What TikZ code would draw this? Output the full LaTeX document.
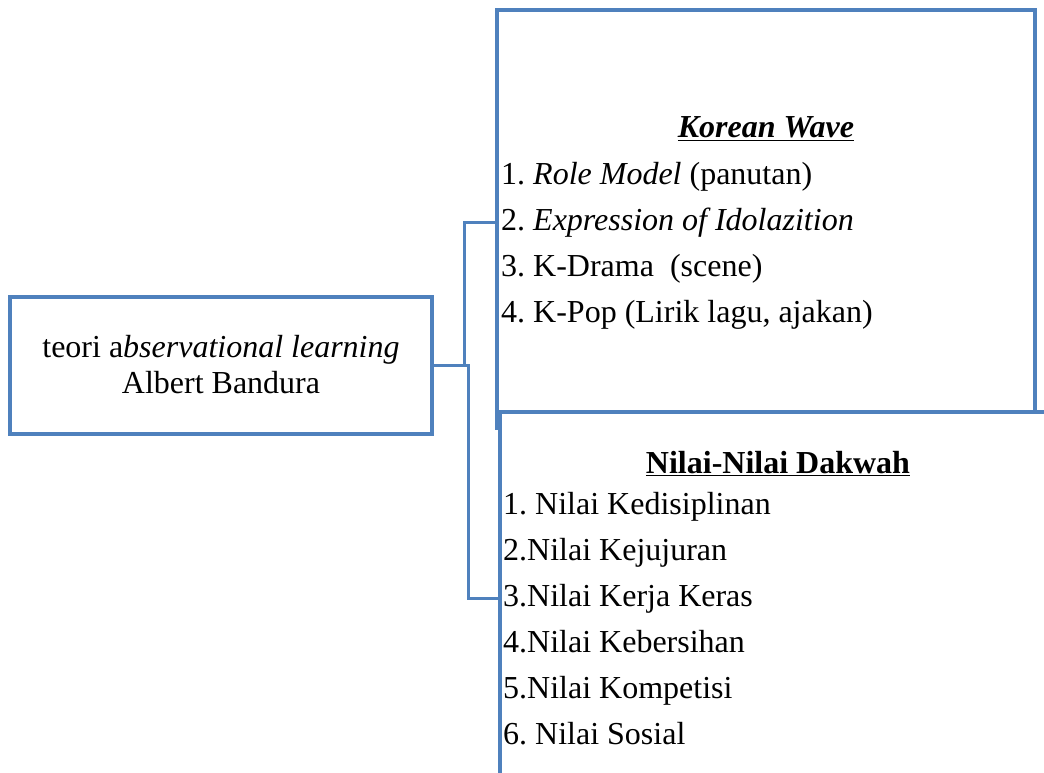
\documentclass[tikz,border=0pt]{standalone}
\usepackage{fontspec}
\setmainfont{Liberation Serif}
\definecolor{boxblue}{RGB}{79,129,189}
\frenchspacing

\begin{document}
\begin{tikzpicture}[x=1pt, y=-1pt,
    every node/.style={font=\fontsize{32}{36}\selectfont},
    frame/.style={draw=boxblue, line width=4pt, inner sep=0pt},
    link/.style={draw=boxblue, line width=3pt},
    item/.style={anchor=base west, inner sep=0pt}]
    \useasboundingbox (0,0) rectangle (1044,773);
    \clip (0,0) rectangle (1044,773);

    % Theory box
    \node[frame, minimum width=422pt, minimum height=137pt, align=center] (teori) at (221,365)
        {teori a\textit{bservational learning}\\Albert Bandura};

    % Korean Wave box, then the values box on top of it
    \node[frame, minimum width=538pt, minimum height=418pt] (korean) at (766,219) {};
    \node[frame, fill=white, minimum width=560pt, minimum height=380pt] (nilai) at (780,602) {};

    % Headings
    \node[anchor=base] (kwhead) at (766,138) {\underline{\textbf{\textit{Korean Wave}}}};
    \node[anchor=base] (nvhead) at (778,473) {\underline{\textbf{Nilai-Nilai Dakwah}}};

    % Lists
    \foreach \txt [count=\i] in {{1. \textit{Role Model} (panutan)}, {2. \textit{Expression of Idolazition}},
        {3. K-Drama~ (scene)}, {4. K-Pop (Lirik lagu, ajakan)}}
        \node[item] (kw\i) at (501,{138+46*\i}) {\txt};
    \foreach \txt [count=\i] in {{1. Nilai Kedisiplinan}, {2.Nilai Kejujuran}, {3.Nilai Kerja Keras},
        {4.Nilai Kebersihan}, {5.Nilai Kompetisi}, {6. Nilai Sosial}}
        \node[item] (nv\i) at (503,{468+46*\i}) {\txt};

    % Connectors
    \draw[link] (teori.east) -- ++(30,0) |- (korean.west |- kw2.west);
    \draw[link] (teori.east) -- ++(34,0) |- (nilai.west |- nv3.west);
\end{tikzpicture}
\end{document}
